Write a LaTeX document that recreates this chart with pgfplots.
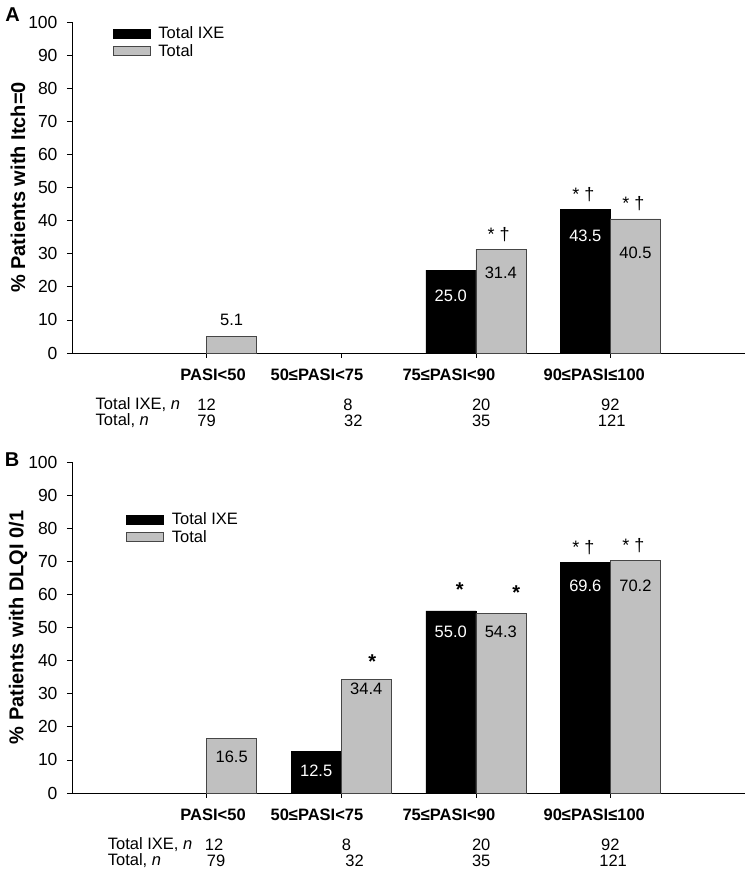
\documentclass[border=0pt]{standalone}
\usepackage{pgfplots}
\pgfplotsset{compat=1.18}
\usepackage{fontspec}
\setmainfont{Liberation Sans}
\definecolor{bargray}{RGB}{192,192,192}
\definecolor{edgegray}{RGB}{70,70,70}
\newcommand{\fs}{\fontsize{16.5}{18}\selectfont}
\newcommand{\fsig}{\fontsize{18}{20}\selectfont}
\begin{document}
\begin{tikzpicture}[x=1pt,y=1pt]
\path[use as bounding box] (0,0) rectangle (745,874);
\pgfplotsset{
  myax/.style={
    scale only axis, width=673pt, height=331pt,
    anchor=south west,
    xmin=0, xmax=5, ymin=0, ymax=100,
    axis x line*=bottom, axis y line*=left,
    xtick={1,2,3,4}, xticklabels={},
    ytick={0,10,...,100},
    tick align=outside, major tick length=5pt,
    tick style={black, line width=0.6pt},
    axis line style={line width=0.8pt},
    /pgf/number format/assume math mode=true,
    ticklabel style={font=\fontsize{17.5}{20}\selectfont},
    yticklabel shift=6pt,
    every axis y label/.style={at={(axis description cs:0,0.5)}, xshift=-54pt, rotate=90, anchor=center, font=\bfseries\fontsize{20}{22}\selectfont},
    ybar, bar width=50pt,
    clip=false,
    legend style={draw=none, fill=none, anchor=north west, inner sep=0pt, font=\fs, row sep=1pt,
      nodes={inner sep=1.5pt}, /tikz/every odd column/.append style={column sep=7pt}},
    legend cell align=left,
  },
  ixe/.style={fill=black, draw=black, bar shift=-25pt,
    legend image code/.code={\draw[fill=black,draw=black] (0pt,-4.5pt) rectangle (37pt,4.5pt);}},
  tot/.style={fill=bargray, draw=edgegray, bar shift=25pt,
    legend image code/.code={\draw[fill=bargray,draw=edgegray] (0pt,-4.5pt) rectangle (37pt,4.5pt);}},
}
% Panel A
\begin{axis}[myax, at={(72pt,521pt)},
  ylabel={\% Patients with Itch=0},
  legend style={at={(axis description cs:0.060,0.99)}}]
\addplot[ixe] coordinates {(3,25.0) (4,43.5)};
\addplot[tot] coordinates {(1,5.1) (3,31.4) (4,40.5)};
\legend{Total IXE, Total}
% value labels
\node[font=\fs] at (axis cs:1.186,10.0) {5.1};
\node[font=\fs, text=white] at (axis cs:2.814,17.2) {25.0};
\node[font=\fs] at (axis cs:3.186,24.2) {31.4};
\node[font=\fs, text=white] at (axis cs:3.814,35.3) {43.5};
\node[font=\fs] at (axis cs:4.186,30.2) {40.5};
% significance
\node[font=\fsig, anchor=base, yshift=9pt] at (axis cs:3.17,31.4) {* †};
\node[font=\fsig, anchor=base, yshift=9pt] at (axis cs:3.80,43.5) {* †};
\node[font=\fsig, anchor=base, yshift=9pt] at (axis cs:4.17,40.5) {* †};
% category labels
\node[font=\bfseries\fs, yshift=-22pt] at (axis cs:1.048,0) {PASI<50};
\node[font=\bfseries\fs, yshift=-22pt] at (axis cs:1.82,0) {50≤PASI<75};
\node[font=\bfseries\fs, yshift=-22pt] at (axis cs:2.80,0) {75≤PASI<90};
\node[font=\bfseries\fs, yshift=-22pt] at (axis cs:3.88,0) {90≤PASI≤100};
% n rows
\node[font=\fs, anchor=west, yshift=-52pt] at (axis cs:0.15,0) {Total IXE, \textit{n}};
\node[font=\fs, anchor=west, yshift=-68pt] at (axis cs:0.15,0) {Total, \textit{n}};
\node[font=\fs, yshift=-52pt] at (axis cs:1.0,0) {12};
\node[font=\fs, yshift=-52pt] at (axis cs:2.05,0) {8};
\node[font=\fs, yshift=-52pt] at (axis cs:3.04,0) {20};
\node[font=\fs, yshift=-52pt] at (axis cs:4.0,0) {92};
\node[font=\fs, yshift=-68pt] at (axis cs:1.0,0) {79};
\node[font=\fs, yshift=-68pt] at (axis cs:2.09,0) {32};
\node[font=\fs, yshift=-68pt] at (axis cs:3.04,0) {35};
\node[font=\fs, yshift=-68pt] at (axis cs:4.01,0) {121};
\end{axis}
% Panel B
\begin{axis}[myax, at={(72pt,81pt)},
  ylabel={\% Patients with DLQI 0/1},
  legend style={at={(axis description cs:0.080,0.852)}}]
\addplot[ixe] coordinates {(2,12.5) (3,55.0) (4,69.6)};
\addplot[tot] coordinates {(1,16.5) (2,34.4) (3,54.3) (4,70.2)};
\legend{Total IXE, Total}
\node[font=\fs] at (axis cs:1.186,10.9) {16.5};
\node[font=\fs, text=white] at (axis cs:1.814,6.6) {12.5};
\node[font=\fs] at (axis cs:2.186,31.4) {34.4};
\node[font=\fs, text=white] at (axis cs:2.814,48.6) {55.0};
\node[font=\fs] at (axis cs:3.186,48.6) {54.3};
\node[font=\fs, text=white] at (axis cs:3.814,62.5) {69.6};
\node[font=\fs] at (axis cs:4.186,62.5) {70.2};
% significance
\node[font=\bfseries\fontsize{20}{22}\selectfont, anchor=base, yshift=11pt] at (axis cs:2.23,34.4) {*};
\node[font=\bfseries\fontsize{20}{22}\selectfont, anchor=base, yshift=14pt] at (axis cs:2.88,55.0) {*};
\node[font=\bfseries\fontsize{20}{22}\selectfont, anchor=base, yshift=14pt] at (axis cs:3.30,54.3) {*};
\node[font=\fsig, anchor=base, yshift=9pt] at (axis cs:3.80,69.6) {* †};
\node[font=\fsig, anchor=base, yshift=9pt] at (axis cs:4.17,70.2) {* †};
% category labels
\node[font=\bfseries\fs, yshift=-22pt] at (axis cs:1.048,0) {PASI<50};
\node[font=\bfseries\fs, yshift=-22pt] at (axis cs:1.82,0) {50≤PASI<75};
\node[font=\bfseries\fs, yshift=-22pt] at (axis cs:2.80,0) {75≤PASI<90};
\node[font=\bfseries\fs, yshift=-22pt] at (axis cs:3.88,0) {90≤PASI≤100};
% n rows
\node[font=\fs, anchor=west, yshift=-52pt] at (axis cs:0.24,0) {Total IXE, \textit{n}};
\node[font=\fs, anchor=west, yshift=-68pt] at (axis cs:0.24,0) {Total, \textit{n}};
\node[font=\fs, yshift=-52pt] at (axis cs:1.055,0) {12};
\node[font=\fs, yshift=-52pt] at (axis cs:2.04,0) {8};
\node[font=\fs, yshift=-52pt] at (axis cs:3.04,0) {20};
\node[font=\fs, yshift=-52pt] at (axis cs:4.0,0) {92};
\node[font=\fs, yshift=-68pt] at (axis cs:1.07,0) {79};
\node[font=\fs, yshift=-68pt] at (axis cs:2.1,0) {32};
\node[font=\fs, yshift=-68pt] at (axis cs:3.04,0) {35};
\node[font=\fs, yshift=-68pt] at (axis cs:4.02,0) {121};
\end{axis}
\node[font=\bfseries\fontsize{20}{22}\selectfont] at (12.5,859) {A};
\node[font=\bfseries\fontsize{20}{22}\selectfont] at (12,414) {B};
\end{tikzpicture}
\end{document}
